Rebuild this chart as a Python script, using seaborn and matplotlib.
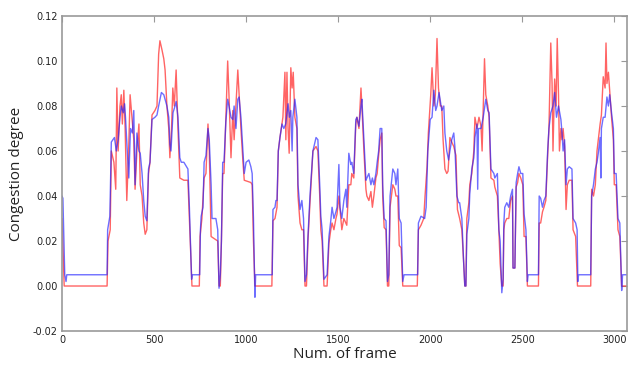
import matplotlib
matplotlib.use("Agg")
import matplotlib.pyplot as plt
import matplotlib.ticker as mticker
import seaborn as sns

# red series (frame, congestion degree)
red_frame = [0, 12, 245, 250, 262, 268, 282, 292, 298, 305, 315, 322, 328, 336, 343, 352, 362, 370, 380, 390,
             397, 407, 418, 425, 435, 444, 452, 461, 470, 478, 489, 505, 516, 525, 532, 543, 553, 560, 570, 580,
             586, 595, 602, 610, 620, 630, 640, 662, 684, 692, 706, 746, 750, 760, 772, 782, 793, 800, 810, 846,
             853, 860, 866, 873, 880, 890, 900, 907, 918, 928, 935, 955, 962, 972, 983, 990, 1026, 1033, 1040, 1048,
             1140, 1146, 1157, 1168, 1175, 1184, 1195, 1200, 1211, 1216, 1222, 1228, 1234, 1243, 1250, 1256, 1265, 1276, 1282, 1293,
             1303, 1312, 1320, 1328, 1336, 1347, 1363, 1380, 1390, 1400, 1406, 1413, 1423, 1440, 1450, 1460, 1467, 1477, 1488, 1494,
             1504, 1515, 1520, 1531, 1542, 1547, 1558, 1569, 1574, 1585, 1596, 1602, 1613, 1624, 1629, 1640, 1651, 1656, 1667, 1678,
             1686, 1694, 1705, 1712, 1720, 1728, 1737, 1742, 1750, 1760, 1768, 1775, 1782, 1797, 1808, 1814, 1824, 1832, 1842, 1851,
             1930, 1936, 1950, 1965, 1972, 1983, 1990, 2003, 2010, 2020, 2028, 2037, 2045, 2055, 2063, 2070, 2080, 2090, 2097, 2100,
             2107, 2117, 2128, 2140, 2148, 2160, 2172, 2182, 2188, 2194, 2199, 2210, 2215, 2226, 2237, 2243, 2254, 2265, 2276, 2282,
             2295, 2302, 2313, 2320, 2330, 2346, 2351, 2365, 2373, 2380, 2389, 2396, 2400, 2405, 2416, 2427, 2437, 2447, 2450, 2460,
             2467, 2475, 2482, 2492, 2503, 2510, 2520, 2528, 2588, 2592, 2600, 2610, 2618, 2628, 2638, 2645, 2655, 2662, 2667, 2676,
             2684, 2690, 2697, 2702, 2710, 2716, 2722, 2730, 2738, 2745, 2755, 2770, 2776, 2790, 2800, 2872, 2877, 2887, 2897, 2906,
             2913, 2923, 2930, 2940, 2950, 2955, 2960, 2968, 2975, 2985, 2995, 3000, 3010, 3020, 3030, 3040, 3070]
red_val = [0.030, 0.0, 0.0, 0.020, 0.025, 0.060, 0.055, 0.043, 0.088, 0.060, 0.080, 0.085, 0.072, 0.087, 0.070, 0.038, 0.060, 0.085, 0.075, 0.065,
           0.043, 0.060, 0.072, 0.045, 0.040, 0.028, 0.023, 0.025, 0.050, 0.055, 0.076, 0.078, 0.080, 0.103, 0.109, 0.105, 0.101, 0.096, 0.080, 0.070,
           0.057, 0.070, 0.088, 0.080, 0.096, 0.070, 0.048, 0.047, 0.047, 0.030, 0.0, 0.0, 0.022, 0.030, 0.048, 0.050, 0.072, 0.060, 0.022, 0.020,
           0.0, 0.0, 0.020, 0.050, 0.050, 0.074, 0.100, 0.085, 0.057, 0.078, 0.065, 0.096, 0.085, 0.070, 0.055, 0.047, 0.046, 0.045, 0.020, 0.0,
           0.0, 0.029, 0.030, 0.035, 0.060, 0.066, 0.072, 0.075, 0.095, 0.065, 0.095, 0.070, 0.059, 0.097, 0.088, 0.095, 0.075, 0.070, 0.040, 0.028,
           0.025, 0.025, 0.0, 0.0, 0.020, 0.037, 0.060, 0.062, 0.060, 0.040, 0.025, 0.020, 0.0, 0.0, 0.019, 0.025, 0.028, 0.025, 0.030, 0.032,
           0.040, 0.030, 0.025, 0.030, 0.028, 0.027, 0.045, 0.045, 0.050, 0.048, 0.072, 0.075, 0.070, 0.088, 0.080, 0.060, 0.043, 0.040, 0.038, 0.042,
           0.035, 0.040, 0.048, 0.050, 0.058, 0.065, 0.068, 0.040, 0.026, 0.025, 0.0, 0.0, 0.035, 0.045, 0.043, 0.040, 0.040, 0.018, 0.017, 0.0,
           0.0, 0.025, 0.027, 0.030, 0.040, 0.053, 0.068, 0.085, 0.097, 0.080, 0.085, 0.110, 0.088, 0.080, 0.080, 0.065, 0.052, 0.050, 0.051, 0.055,
           0.066, 0.064, 0.062, 0.058, 0.034, 0.030, 0.025, 0.010, 0.0, 0.0, 0.030, 0.037, 0.045, 0.050, 0.060, 0.075, 0.070, 0.075, 0.071, 0.060,
           0.101, 0.085, 0.080, 0.075, 0.048, 0.047, 0.044, 0.040, 0.025, 0.010, 0.0, 0.0, 0.025, 0.028, 0.030, 0.030, 0.038, 0.040, 0.008, 0.008,
           0.044, 0.046, 0.050, 0.048, 0.045, 0.022, 0.022, 0.0, 0.0, 0.028, 0.028, 0.033, 0.035, 0.038, 0.058, 0.070, 0.108, 0.090, 0.060, 0.092,
           0.080, 0.110, 0.085, 0.060, 0.070, 0.065, 0.070, 0.062, 0.034, 0.045, 0.047, 0.047, 0.025, 0.022, 0.0, 0.0, 0.043, 0.040, 0.045, 0.060,
           0.065, 0.072, 0.076, 0.093, 0.088, 0.108, 0.090, 0.095, 0.087, 0.075, 0.065, 0.045, 0.045, 0.025, 0.022, 0.0, 0.0]

# blue series
blue_frame = [0, 5, 15, 22, 26, 245, 248, 260, 268, 285, 295, 305, 315, 322, 333, 340, 345, 352, 363, 372,
              382, 390, 397, 407, 418, 425, 435, 444, 452, 461, 470, 478, 489, 505, 516, 525, 540, 553, 560, 570,
              580, 586, 592, 603, 614, 620, 630, 640, 648, 662, 684, 692, 704, 708, 748, 752, 756, 766, 772, 782,
              793, 800, 810, 815, 836, 846, 853, 860, 866, 873, 880, 890, 900, 907, 918, 928, 935, 945, 955, 962,
              972, 983, 990, 1000, 1015, 1026, 1033, 1040, 1048, 1052, 1142, 1146, 1157, 1162, 1168, 1175, 1184, 1195, 1205, 1215,
              1228, 1235, 1243, 1250, 1254, 1265, 1276, 1282, 1293, 1303, 1312, 1320, 1328, 1336, 1347, 1363, 1380, 1390, 1400, 1406,
              1413, 1423, 1440, 1450, 1460, 1467, 1477, 1488, 1494, 1504, 1510, 1520, 1531, 1542, 1547, 1558, 1569, 1574, 1585, 1596,
              1602, 1613, 1624, 1629, 1640, 1651, 1656, 1667, 1678, 1686, 1694, 1705, 1712, 1720, 1728, 1737, 1742, 1750, 1760, 1768,
              1775, 1782, 1797, 1808, 1814, 1824, 1832, 1842, 1851, 1858, 1932, 1936, 1950, 1970, 1978, 1987, 2000, 2010, 2020, 2030,
              2037, 2048, 2063, 2074, 2080, 2090, 2100, 2107, 2117, 2128, 2134, 2145, 2155, 2160, 2172, 2182, 2188, 2194, 2199, 2210,
              2215, 2226, 2237, 2243, 2254, 2258, 2262, 2276, 2288, 2302, 2313, 2320, 2330, 2346, 2351, 2365, 2373, 2380, 2389, 2396,
              2400, 2405, 2416, 2427, 2437, 2447, 2450, 2460, 2467, 2475, 2482, 2492, 2503, 2510, 2520, 2528, 2532, 2588, 2592, 2600,
              2610, 2618, 2628, 2638, 2645, 2655, 2667, 2676, 2686, 2697, 2710, 2716, 2722, 2730, 2738, 2745, 2755, 2770, 2776, 2790,
              2798, 2802, 2806, 2872, 2877, 2887, 2897, 2906, 2913, 2923, 2927, 2930, 2940, 2950, 2960, 2968, 2975, 2985, 2995, 3000,
              3010, 3020, 3030, 3040, 3045, 3070]
blue_val = [0.040, 0.039, 0.005, 0.002, 0.005, 0.005, 0.025, 0.031, 0.064, 0.066, 0.060, 0.065, 0.075, 0.080, 0.077, 0.081, 0.075, 0.064, 0.048, 0.070,
            0.068, 0.078, 0.045, 0.068, 0.060, 0.059, 0.050, 0.038, 0.031, 0.029, 0.052, 0.055, 0.074, 0.075, 0.076, 0.080, 0.086, 0.085, 0.083, 0.080,
            0.075, 0.063, 0.060, 0.077, 0.080, 0.082, 0.075, 0.057, 0.055, 0.055, 0.052, 0.035, 0.003, 0.005, 0.005, 0.025, 0.031, 0.035, 0.055, 0.058,
            0.070, 0.065, 0.045, 0.030, 0.030, 0.025, -0.001, 0.005, 0.020, 0.055, 0.055, 0.073, 0.083, 0.080, 0.075, 0.074, 0.080, 0.070, 0.083, 0.084,
            0.075, 0.060, 0.050, 0.055, 0.056, 0.053, 0.050, 0.030, -0.005, 0.005, 0.005, 0.034, 0.035, 0.038, 0.038, 0.060, 0.066, 0.072, 0.070, 0.072,
            0.081, 0.075, 0.078, 0.060, 0.075, 0.083, 0.075, 0.045, 0.034, 0.038, 0.030, 0.002, 0.005, 0.022, 0.040, 0.060, 0.066, 0.065, 0.045, 0.031,
            0.025, 0.003, 0.005, 0.022, 0.029, 0.035, 0.030, 0.033, 0.035, 0.054, 0.035, 0.030, 0.038, 0.043, 0.035, 0.059, 0.054, 0.055, 0.050, 0.074,
            0.075, 0.071, 0.080, 0.083, 0.065, 0.047, 0.048, 0.050, 0.045, 0.048, 0.045, 0.050, 0.055, 0.060, 0.070, 0.070, 0.045, 0.030, 0.029, 0.002,
            0.005, 0.040, 0.052, 0.050, 0.045, 0.052, 0.030, 0.028, 0.002, 0.005, 0.005, 0.028, 0.031, 0.030, 0.035, 0.060, 0.074, 0.075, 0.087, 0.078,
            0.080, 0.086, 0.078, 0.080, 0.068, 0.060, 0.056, 0.060, 0.065, 0.068, 0.062, 0.040, 0.037, 0.037, 0.030, 0.010, 0.0, 0.0, 0.023, 0.030,
            0.041, 0.052, 0.057, 0.066, 0.072, 0.043, 0.070, 0.070, 0.075, 0.083, 0.078, 0.077, 0.052, 0.050, 0.048, 0.050, 0.025, 0.020, -0.003, 0.003,
            0.028, 0.035, 0.037, 0.035, 0.040, 0.043, 0.008, 0.008, 0.046, 0.050, 0.053, 0.050, 0.050, 0.032, 0.025, 0.002, 0.005, 0.005, 0.040, 0.039,
            0.035, 0.038, 0.040, 0.060, 0.070, 0.077, 0.080, 0.086, 0.075, 0.080, 0.074, 0.068, 0.060, 0.065, 0.045, 0.052, 0.053, 0.052, 0.030, 0.028,
            0.025, 0.002, 0.005, 0.005, 0.040, 0.045, 0.052, 0.055, 0.059, 0.066, 0.048, 0.070, 0.075, 0.075, 0.084, 0.080, 0.085, 0.077, 0.070, 0.050,
            0.050, 0.030, 0.028, -0.002, 0.005, 0.005]

x_ticks = [0, 500, 1000, 1500, 2000, 2500, 3000]
y_ticks = [-0.02, 0.00, 0.02, 0.04, 0.06, 0.08, 0.10, 0.12]

sns.set_style("white")
plt.rcParams['font.family'] = ['DejaVu Sans']

fig = plt.figure(figsize=(6.28, 3.66), dpi=100)
ax = fig.add_axes([0.0987, 0.0956, 0.9, 0.8607])

sns.lineplot(x=red_frame, y=red_val, estimator=None, sort=False, color='#ff3030',
             alpha=0.75, linewidth=1.0, ax=ax)
sns.lineplot(x=blue_frame, y=blue_val, estimator=None, sort=False, color='#2020ff',
             alpha=0.65, linewidth=1.0, ax=ax)

ax.set_xlim(0, 3070)
ax.set_ylim(-0.02, 0.12)
ax.set_xticks(x_ticks)
ax.set_yticks(y_ticks)
ax.yaxis.set_major_formatter(mticker.FormatStrFormatter('%.2f'))
ax.tick_params(direction='in', length=4, width=0.8, color='#999999', labelsize=7,
               labelcolor='#222222', top=True, right=True, pad=3)
for s in ax.spines.values():
    s.set_color('#999999')
    s.set_linewidth(1.2)

ax.set_xlabel('Num. of frame', fontsize=11, family='Open Sans', color='#222222', labelpad=1)
ax.set_ylabel('Congestion degree', fontsize=11, family='Open Sans', color='#222222', labelpad=6)

fig.savefig('out.png', dpi=100)
